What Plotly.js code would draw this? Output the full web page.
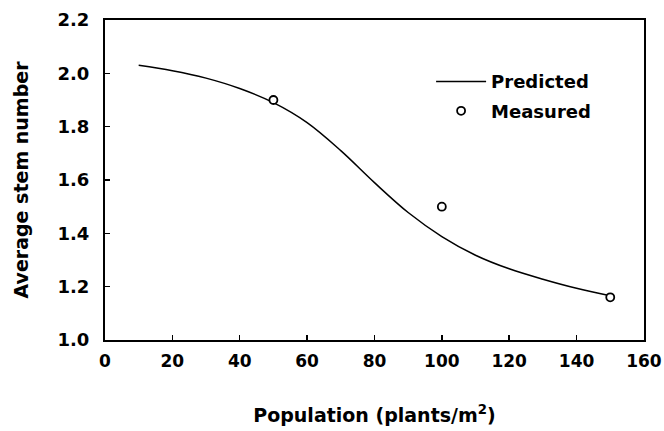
<!DOCTYPE html>
<html>
<head>
<meta charset="utf-8">
<script src="https://cdn.plot.ly/plotly-3.0.1.min.js"></script>
<style>html,body{margin:0;padding:0;background:#fff;}#chart{width:664px;height:431px;}</style>
</head>
<body>
<div id="chart"></div>
<script>
// Predicted curve
const predictedX = [10, 20, 30, 40, 50, 60, 70, 80, 90, 100, 110, 120, 130, 140, 150];
const predictedY = [2.030, 2.010, 1.982, 1.943, 1.890, 1.815, 1.710, 1.590, 1.478, 1.388, 1.318, 1.267, 1.228, 1.194, 1.166];
// Measured points
const measuredX = [50, 100, 150];
const measuredY = [1.90, 1.50, 1.16];
const xTicks = [0, 20, 40, 60, 80, 100, 120, 140, 160];
const yTicks = [1.0, 1.2, 1.4, 1.6, 1.8, 2.0, 2.2];

const FONT = "DejaVu Sans, Arial, sans-serif";

const traces = [
  {x: predictedX, y: predictedY, mode: 'lines', name: 'Predicted',
   line: {color: '#000', width: 1.5, shape: 'spline', smoothing: 1},
   legendgroup: 'a'},
  {x: measuredX, y: measuredY, mode: 'markers', name: 'Measured',
   marker: {symbol: 'circle', size: 8, color: '#fff', line: {color: '#000', width: 1.8}},
   legendgroup: 'b'}
];

const axisCommon = {
  showgrid: false, zeroline: false, showline: true, linecolor: '#000', linewidth: 2,
  mirror: true, ticks: 'inside', ticklen: 5, tickwidth: 1.5, tickcolor: '#000',
  tickfont: {family: FONT, size: 18, color: '#000', weight: 'bold'}
};

const layout = {
  width: 664, height: 431,
  margin: {l: 105, r: 20, t: 20, b: 91},
  paper_bgcolor: '#fff', plot_bgcolor: '#fff',
  font: {family: FONT, color: '#000'},
  showlegend: true,
  legend: {x: 0.605, y: 0.865, xanchor: 'left', yanchor: 'top',
    bgcolor: 'rgba(0,0,0,0)', font: {family: FONT, size: 18, color: '#000', weight: 'bold'},
    traceorder: 'grouped', tracegroupgap: 3, itemwidth: 50},
  xaxis: Object.assign({}, axisCommon, {
    range: [0, 160.02], tickmode: 'array', tickvals: xTicks, ticktext: xTicks.map(String),
    ticklabelstandoff: 5, ticklabeloverflow: 'allow',
    tickfont: {family: FONT, size: 17, color: '#000', weight: 'bold'},
    title: {text: '<b>Population (plants/m<sup>2</sup>)</b>', standoff: 38,
      font: {family: FONT, size: 19, color: '#000'}}
  }),
  yaxis: Object.assign({}, axisCommon, {
    range: [1.0, 2.2], tickmode: 'array', tickvals: yTicks, ticktext: yTicks.map(v => v.toFixed(1)),
    ticklabelstandoff: 10,
    title: {text: '<b>Average stem number</b>', standoff: 24,
      font: {family: FONT, size: 19, color: '#000'}}
  })
};

Plotly.newPlot('chart', traces, layout, {staticPlot: true, displayModeBar: false});
</script>
</body>
</html>
